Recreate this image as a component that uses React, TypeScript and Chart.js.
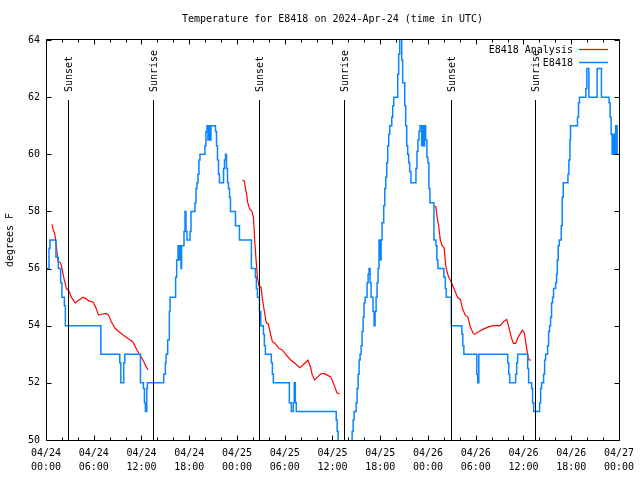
import React, { useEffect, useRef } from 'react';
import { Chart, registerables } from 'chart.js';

Chart.register(...registerables);

const TITLE = 'Temperature for E8418 on 2024-Apr-24 (time in UTC)';
const Y_TITLE = 'degrees F';
const SERIES_NAMES = ['E8418 Analysis', 'E8418'];
const SERIES_COLORS = ['#ff0000', '#0a84ff'];

const X_TICK_LABELS = [
  ['04/24', '00:00'], ['04/24', '06:00'], ['04/24', '12:00'], ['04/24', '18:00'],
  ['04/25', '00:00'], ['04/25', '06:00'], ['04/25', '12:00'], ['04/25', '18:00'],
  ['04/26', '00:00'], ['04/26', '06:00'], ['04/26', '12:00'], ['04/26', '18:00'],
  ['04/27', '00:00'],
];

// hours since 2024-04-24 00:00 UTC; each value holds until the next change (step plot)
const OBS_HOURS = [
  0.13, 0.38, 0.50, 1.25, 1.55, 1.84, 2.00, 2.31, 2.43, 6.89, 9.27, 9.40, 9.77, 9.90,
  11.87, 12.24, 12.37, 12.49, 12.66, 12.74, 14.79, 15.00, 15.09, 15.29, 15.50, 15.59,
  16.29, 16.42, 16.59, 16.72, 16.84, 16.97, 17.04, 17.34, 17.47, 17.59, 17.72, 18.10,
  18.22, 18.72, 18.85, 18.97, 19.10, 19.22, 19.35, 19.97, 20.10, 20.23, 20.35, 20.48,
  20.60, 20.73, 21.30, 21.43, 21.55, 21.68, 21.80, 22.31, 22.43, 22.56, 22.68, 22.81,
  22.93, 23.06, 23.18, 23.81, 24.31, 25.81, 26.32, 26.44, 26.57, 26.82, 26.99, 27.32,
  27.44, 27.57, 28.32, 28.45, 28.57, 30.58, 30.83, 31.08, 31.20, 31.33, 31.45, 36.47,
  36.59, 36.72, 38.47, 38.60, 38.72, 38.97, 39.10, 39.22, 39.35, 39.47, 39.60, 39.72,
  39.85, 39.97, 40.10, 40.35, 40.48, 40.60, 40.73, 40.85, 41.10, 41.23, 41.35, 41.48,
  41.60, 41.73, 41.85, 41.98, 42.11, 42.23, 42.44, 42.57, 42.69, 42.82, 42.94, 43.07,
  43.20, 43.45, 43.57, 43.70, 44.20, 44.32, 44.45, 44.70, 44.82, 45.08, 45.20, 45.33,
  45.45, 45.58, 45.70, 45.86, 46.49, 46.62, 46.74, 46.87, 46.99, 47.20, 47.33, 47.46,
  47.58, 47.71, 47.87, 47.99, 48.12, 48.25, 48.75, 49.00, 49.12, 49.25, 50.00, 50.18,
  50.30, 50.93, 52.26, 52.38, 52.51, 54.14, 54.26, 54.39, 58.02, 58.15, 58.27, 59.02,
  59.15, 59.27, 60.53, 60.65, 61.03, 61.15, 61.28, 62.03, 62.16, 62.28, 62.53, 62.66,
  62.78, 63.03, 63.16, 63.28, 63.41, 63.53, 63.66, 63.78, 64.04, 64.16, 64.25, 64.37,
  64.50, 64.75, 64.87, 65.00, 65.59, 65.71, 65.84, 65.91, 66.79, 66.92, 67.04, 67.84,
  67.97, 68.22, 69.26, 69.80, 70.76, 70.89, 71.02, 71.14, 71.33, 71.45, 71.58, 71.77,
  71.95,
];
const OBS_TEMPS = [
  56.0, 56.7, 57.0, 56.4, 56.0, 55.5, 55.0, 54.7, 54.0, 53.0, 52.7, 52.0, 52.7, 53.0,
  52.0, 51.8, 51.3, 51.0, 51.8, 52.0, 52.3, 52.7, 53.0, 53.5, 54.5, 55.0,
  55.7, 56.3, 56.8, 56.3, 56.8, 56.0, 56.8, 57.3, 58.0, 57.3, 57.0, 57.3,
  58.0, 58.3, 58.8, 59.0, 59.3, 59.8, 60.0, 60.3, 60.8, 61.0, 60.5, 61.0,
  60.5, 61.0, 60.8, 60.3, 59.8, 59.3, 59.0, 59.5, 59.8, 60.0, 59.5, 59.0,
  58.8, 58.5, 58.0, 57.5, 57.0, 56.0, 55.7, 55.3, 55.0, 54.5, 54.0, 53.7,
  53.3, 53.0, 52.7, 52.3, 52.0, 51.3, 51.0, 51.3, 52.0, 51.3, 51.0, 50.7,
  50.3, 49.5, 50.3, 50.7, 51.0, 51.3, 51.8, 52.3, 52.8, 53.0, 53.3, 53.8,
  54.3, 54.8, 55.0, 55.5, 55.8, 56.0, 55.5, 55.0, 54.5, 54.0, 54.5, 55.0,
  55.5, 56.0, 57.0, 56.3, 57.0, 57.6, 58.2, 58.8, 59.2, 59.7, 60.3, 60.7,
  61.0, 61.3, 61.7, 62.0, 62.8, 63.5, 64.5, 63.3, 62.5, 61.7, 61.0, 60.3,
  60.0, 59.7, 59.4, 59.0, 59.5, 60.1, 60.5, 60.8, 61.0, 60.3, 61.0, 60.3,
  61.0, 60.5, 59.9, 59.7, 58.8, 58.3, 57.0, 56.8, 56.3, 56.0, 55.7, 55.3,
  55.0, 54.0, 53.7, 53.3, 53.0, 52.3, 52.0, 53.0, 52.7, 52.3, 52.0, 52.3,
  52.7, 53.0, 52.5, 52.0, 51.8, 51.3, 51.0, 51.3, 51.8, 52.0, 52.3, 52.8,
  53.0, 53.3, 53.8, 54.0, 54.3, 54.8, 55.0, 55.3, 55.5, 55.8, 56.3, 56.8,
  57.0, 57.5, 58.5, 59.0, 59.3, 59.8, 60.5, 61.0, 61.3, 61.8, 62.0, 62.3,
  63.0, 62.0, 63.0, 62.0, 61.8, 61.3, 60.7, 60.0, 60.7, 60.0, 61.0, 60.0,
  60.0,
];

// analysis: three overnight segments, separated by null
const ANA_HOURS = [
  0.75, 0.88, 1.13, 1.38, 1.50, 1.84, 2.01, 2.22, 2.56, 2.88, 3.18, 3.68, 4.14, 4.64,
  5.06, 5.35, 5.89, 6.23, 6.60, 7.02, 7.57, 7.86, 8.20, 8.70, 9.24, 9.86, 10.49, 10.90,
  11.33, 11.74, 12.16, 12.49, 12.83,
  13.0,
  24.69, 24.94, 25.03, 25.19, 25.36, 25.61, 25.86, 26.07, 26.24, 26.37, 26.57, 26.78,
  27.03, 27.19, 27.41, 27.69, 27.94, 28.20, 28.45, 28.78, 29.29, 29.70, 30.20, 30.75,
  31.38, 31.88, 32.42, 32.92, 33.26, 33.46, 33.76, 34.14, 34.51, 34.92, 35.34, 35.76,
  36.05, 36.30, 36.55, 36.89,
  37.0,
  48.75, 49.00, 49.17, 49.34, 49.55, 49.75, 50.03, 50.25, 50.59, 50.80, 51.00, 51.43,
  51.72, 52.06, 52.34, 52.68, 53.01, 53.31, 53.72, 53.93, 54.35, 54.97, 55.60, 56.22,
  57.07, 57.48, 57.89, 58.10, 58.45, 58.73, 59.02, 59.36, 59.86, 60.11, 60.30, 60.61,
  60.70, 60.95,
];
const ANA_TEMPS = [
  57.55, 57.4, 57.17, 56.58, 56.26, 56.2, 56.0, 55.7, 55.3, 55.22, 55.0, 54.8, 54.9, 55.0,
  54.94, 54.87, 54.83, 54.66, 54.37, 54.4, 54.43, 54.37, 54.14, 53.9, 53.77, 53.64, 53.52, 53.44,
  53.2, 53.0, 52.82, 52.62, 52.45,
  null,
  59.09, 59.06, 58.84, 58.63, 58.3, 58.07, 58.02, 57.79, 56.93, 56.41, 55.7, 55.38,
  55.34, 54.95, 54.55, 54.1, 54.06, 53.73, 53.44, 53.38, 53.2, 53.15, 52.97, 52.8,
  52.66, 52.53, 52.66, 52.8, 52.54, 52.27, 52.1, 52.21, 52.31, 52.33, 52.27, 52.21,
  52.04, 51.86, 51.65, 51.61,
  null,
  58.18, 58.16, 57.75, 57.5, 57.0, 56.82, 56.73, 56.06, 55.7, 55.6, 55.48, 55.19,
  55.0, 54.92, 54.6, 54.37, 54.31, 53.96, 53.71, 53.71, 53.79, 53.88, 53.96, 54.0,
  54.0, 54.14, 54.22, 54.02, 53.61, 53.38, 53.38, 53.61, 53.85, 53.75, 53.4, 52.86,
  52.8, 52.8,
];

const SUN_HOURS = [2.76, 13.41, 26.82, 37.49, 50.88, 61.40];
const SUN_LABELS = ['Sunset', 'Sunrise', 'Sunset', 'Sunrise', 'Sunset', 'Sunrise'];

const FONT = "'DejaVu Sans Mono', 'Liberation Mono', monospace";

const decor = {
  id: 'gnuplotDecor',
  afterDatasetsDraw(chart: any) {
    const { ctx, chartArea: a, scales } = chart;
    const x = scales.x;
    const y = scales.y;
    const h = a.bottom - a.top;
    ctx.save();
    ctx.strokeStyle = '#000';
    ctx.fillStyle = '#000';
    ctx.lineWidth = 1;
    ctx.font = `10px ${FONT}`;

    // sunrise / sunset markers
    SUN_HOURS.forEach((hr, i) => {
      const px = Math.round(x.getPixelForValue(hr)) + 0.5;
      ctx.beginPath();
      ctx.moveTo(px, a.bottom);
      ctx.lineTo(px, a.bottom - 0.85 * h);
      ctx.stroke();
      ctx.save();
      ctx.translate(px + 1, a.bottom - 0.87 * h);
      ctx.rotate(-Math.PI / 2);
      ctx.textAlign = 'left';
      ctx.textBaseline = 'middle';
      ctx.fillText(SUN_LABELS[i], 0, 0);
      ctx.restore();
    });

    // frame
    const L = Math.round(a.left) + 0.5;
    const R = Math.round(a.right) + 0.5;
    const T = Math.round(a.top) - 0.5;
    const B = Math.round(a.bottom) + 0.5;
    ctx.beginPath();
    ctx.rect(L, T, R - L, B - T);
    ctx.stroke();

    // ticks (inward, mirrored)
    ctx.beginPath();
    x.ticks.forEach((t: any) => {
      const px = Math.round(x.getPixelForValue(t.value)) + 0.5;
      const len = t.value % 6 === 0 ? 5 : 3;
      ctx.moveTo(px, B);
      ctx.lineTo(px, B - len);
      ctx.moveTo(px, T);
      ctx.lineTo(px, T + len);
    });
    y.ticks.forEach((t: any) => {
      const py = Math.round(y.getPixelForValue(t.value)) + 0.5;
      ctx.moveTo(L, py);
      ctx.lineTo(L + 5, py);
      ctx.moveTo(R, py);
      ctx.lineTo(R - 5, py);
    });
    ctx.stroke();

    // legend
    ctx.textAlign = 'right';
    ctx.textBaseline = 'middle';
    SERIES_NAMES.forEach((name, i) => {
      const ly = a.top + 10 + i * 13;
      ctx.fillStyle = '#000';
      ctx.fillText(name, a.right - 46, ly);
      ctx.strokeStyle = SERIES_COLORS[i];
      ctx.lineWidth = i === 1 ? 1.5 : 1.2;
      ctx.beginPath();
      ctx.moveTo(a.right - 40, Math.round(ly) - 0.5);
      ctx.lineTo(a.right - 11, Math.round(ly) - 0.5);
      ctx.stroke();
    });

    // title
    ctx.fillStyle = '#000';
    ctx.textAlign = 'center';
    ctx.textBaseline = 'middle';
    ctx.fillText(TITLE, (a.left + a.right) / 2, 19.5);
    ctx.restore();
  },
};

export default function App() {
  const ref = useRef<HTMLCanvasElement | null>(null);

  useEffect(() => {
    if (!ref.current) return;
    Chart.defaults.font.family = FONT;
    Chart.defaults.font.size = 10;
    Chart.defaults.color = '#000';

    const obs = OBS_HOURS.map((hr, i) => ({ x: hr, y: OBS_TEMPS[i] }));
    const ana = ANA_HOURS.map((hr, i) => ({ x: hr, y: ANA_TEMPS[i] }));

    const chart = new Chart(ref.current, {
      type: 'line',
      data: {
        datasets: [
          {
            label: SERIES_NAMES[0],
            data: ana,
            borderColor: SERIES_COLORS[0],
            borderWidth: 1.2,
            pointRadius: 0,
            tension: 0,
            spanGaps: false,
            order: 1,
            clip: 0,
          },
          {
            label: SERIES_NAMES[1],
            data: obs,
            borderColor: SERIES_COLORS[1],
            borderWidth: 1.5,
            pointRadius: 0,
            stepped: 'before',
            order: 0,
            clip: 0,
          },
        ],
      },
      options: {
        animation: false,
        responsive: false,
        devicePixelRatio: 1,
        layout: { padding: { left: 0, top: 40, right: 19, bottom: 0 } },
        plugins: { legend: { display: false }, title: { display: false }, tooltip: { enabled: false } },
        scales: {
          x: {
            type: 'linear',
            min: 0,
            max: 72,
            grid: { display: false, drawTicks: false },
            border: { display: false },
            ticks: {
              stepSize: 2,
              autoSkip: false,
              maxRotation: 0,
              padding: 6,
              font: { size: 10, lineHeight: 1.4 },
              callback: (v: any) => (Number(v) % 6 === 0 ? X_TICK_LABELS[Number(v) / 6] : ''),
            },
            afterFit: (s: any) => { s.height = 40; },
          },
          y: {
            type: 'linear',
            min: 50,
            max: 64,
            grid: { display: false, drawTicks: false },
            border: { display: false },
            ticks: { stepSize: 2, padding: 6, font: { size: 10 } },
            title: { display: true, text: Y_TITLE, font: { size: 10 }, padding: { top: 4, bottom: 0 } },
            afterFit: (s: any) => { s.width = 46; },
          },
        },
      },
      plugins: [decor],
    });
    return () => chart.destroy();
  }, []);

  return (
    <div style={{ position: 'absolute', left: 0, top: 0, width: 640, height: 480, background: '#fff' }}>
      <canvas ref={ref} width={640} height={480} style={{ display: 'block' }} />
    </div>
  );
}
